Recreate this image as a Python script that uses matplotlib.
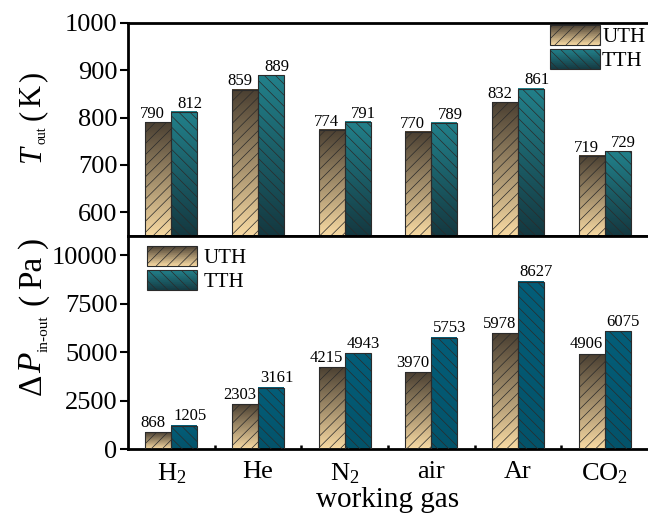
import numpy as np
import matplotlib
matplotlib.use("Agg")
import matplotlib.pyplot as plt
from matplotlib.patches import Rectangle
from matplotlib.legend_handler import HandlerBase
from matplotlib.colors import to_rgb, LinearSegmentedColormap
from matplotlib.transforms import IdentityTransform

# ---- data -------------------------------------------------------------
gases = ["H$_2$", "He", "N$_2$", "air", "Ar", "CO$_2$"]
series = ["UTH", "TTH"]
t_out_uth = [790, 859, 774, 770, 832, 719]
t_out_tth = [812, 889, 791, 789, 861, 729]
dp_uth = [868, 2303, 4215, 3970, 5978, 4906]
dp_tth = [1205, 3161, 4943, 5753, 8627, 6075]

# ---- style ------------------------------------------------------------
plt.rcParams.update({
    "font.family": "Liberation Serif",
    "mathtext.fontset": "custom",
    "mathtext.rm": "Liberation Serif",
    "mathtext.it": "Liberation Serif:italic",
    "mathtext.bf": "Liberation Serif:bold",
    "hatch.linewidth": 0.5,
})

UTH_TOP, UTH_BOT = "#4a3f31", "#f8daa3"
TTH_TOP, TTH_BOT = "#22818b", "#143840"
TTH2_TOP, TTH2_BOT = "#035e79", "#04536a"
EDGE = "#2b2b2b"
HATCH_U, HATCH_T = "///", "\\\\\\"

W, H = 648, 518
fig = plt.figure(figsize=(W / 100, H / 100), dpi=100)
left = 128 / W
sep = (H - 236) / H
top = (H - 22.7) / H
bottom = (H - 449) / H
ax_t = fig.add_axes([left, sep, 1.0 - left, top - sep])
ax_b = fig.add_axes([left, bottom, 1.0 - left, sep - bottom], sharex=ax_t)

x = np.arange(len(gases))
bw = 0.3


def gradient_fill(ax, bars, c_top, c_bot, ybase):
    cmap = LinearSegmentedColormap.from_list("g", [c_bot, c_top])
    grad = np.linspace(0, 1, 256).reshape(-1, 1)
    for b in bars:
        x0, w = b.get_x(), b.get_width()
        y1 = b.get_y() + b.get_height()
        y0 = max(b.get_y(), ybase)
        ax.imshow(grad, cmap=cmap, origin="lower", aspect="auto",
                  extent=(x0, x0 + w, y0, y1), zorder=2,
                  interpolation="bilinear")


def draw_panel(ax, uth, tth, ylim, tth_colors, dy_pts):
    b1 = ax.bar(x - bw / 2, uth, bw, facecolor="none", edgecolor=EDGE,
                hatch=HATCH_U, linewidth=0.8, zorder=3)
    b2 = ax.bar(x + bw / 2, tth, bw, facecolor="none", edgecolor=EDGE,
                hatch=HATCH_T, linewidth=0.8, zorder=3)
    gradient_fill(ax, b1, UTH_TOP, UTH_BOT, ylim[0])
    gradient_fill(ax, b2, tth_colors[0], tth_colors[1], ylim[0])
    for bars, vals, dx in ((b1, uth, -4), (b2, tth, 4)):
        for b, v in zip(bars, vals):
            ax.annotate(f"{v}", (b.get_x() + b.get_width() / 2, v),
                        xytext=(dx, dy_pts), textcoords="offset points",
                        ha="center", va="baseline", fontsize=12, zorder=4)
    ax.set_ylim(*ylim)
    ax.set_xlim(-0.5, 5.5)


draw_panel(ax_t, t_out_uth, t_out_tth, (550, 1000), (TTH_TOP, TTH_BOT), 3)
draw_panel(ax_b, dp_uth, dp_tth, (0, 11000), (TTH2_TOP, TTH2_BOT), 4)

for ax in (ax_t, ax_b):
    for s in ("left", "top", "bottom"):
        ax.spines[s].set_linewidth(2)
    ax.spines["right"].set_visible(False)
    ax.tick_params(axis="y", which="major", direction="out", length=6,
                   width=1.5, labelsize=19, pad=1.5)

ax_t.set_yticks([600, 700, 800, 900, 1000])
ax_b.set_yticks([0, 2500, 5000, 7500, 10000])
ax_b.set_xticks(x)
ax_b.set_xticklabels(gases)
ax_b.set_xticks(x[:-1] + 0.5, minor=True)
ax_b.tick_params(axis="x", which="major", direction="in", length=4.5,
                 width=1.8, labelsize=19, pad=9)
ax_b.tick_params(axis="x", which="minor", direction="in", length=3,
                 width=1.8)
ax_t.tick_params(axis="x", which="both", bottom=False, labelbottom=False)
ax_b.set_xlabel("working gas", fontsize=21, labelpad=1)


# ---- legends with gradient swatches -------------------------------------
class GradientHandler(HandlerBase):
    def __init__(self, c_top, c_bot, hatch, n=30):
        super().__init__()
        self.c_top = np.array(to_rgb(c_top))
        self.c_bot = np.array(to_rgb(c_bot))
        self.hatch = hatch
        self.n = n

    def create_artists(self, legend, orig_handle, xdescent, ydescent,
                       width, height, fontsize, trans):
        x0, y0 = -xdescent, -ydescent
        arts = []
        step = height / self.n
        for i in range(self.n):
            f = (i + 0.5) / self.n
            c = self.c_bot * (1 - f) + self.c_top * f
            arts.append(Rectangle((x0, y0 + i * step), width, step * 1.05,
                                  facecolor=c, edgecolor="none",
                                  antialiased=False, transform=trans))
        arts.append(Rectangle((x0, y0), width, height, facecolor="none",
                              edgecolor=EDGE, hatch=self.hatch,
                              linewidth=0.8, transform=trans))
        return arts


def add_legend(ax, anchor_px, textpad):
    pu = Rectangle((0, 0), 1, 1, label=series[0])
    pt = Rectangle((0, 0), 1, 1, label=series[1])
    leg = ax.legend(handles=[pu, pt],
                    handler_map={pu: GradientHandler(UTH_TOP, UTH_BOT, HATCH_U),
                                 pt: GradientHandler(TTH_TOP, TTH_BOT, HATCH_T)},
                    loc="upper left",
                    bbox_to_anchor=(anchor_px[0] / W, (H - anchor_px[1]) / H),
                    bbox_transform=fig.transFigure, frameon=False,
                    borderpad=0, borderaxespad=0, fontsize=15,
                    handlelength=2.4, handleheight=1.1,
                    handletextpad=textpad, labelspacing=0.1)
    leg.set_zorder(5)
    return leg


add_legend(ax_t, (550, 25), 0.1)
add_legend(ax_b, (147, 246), 0.3)


# ---- rotated y labels built from pieces ---------------------------------
def vertical_label(x_base, y_center, pieces):
    """pieces: (text, fontsize, style, baseline shift px, gap before px)"""
    renderer = fig.canvas.get_renderer()
    items = []
    total = 0.0
    for text, size, style, drop, gap in pieces:
        t = fig.text(0, 0, text, fontsize=size, style=style, rotation=90,
                     rotation_mode="anchor", ha="left", va="baseline",
                     transform=IdentityTransform())
        length = t.get_window_extent(renderer).height
        items.append((t, drop, gap, length))
        total += gap + length
    y = (H - y_center) - total / 2
    for t, drop, gap, length in items:
        y += gap
        t.set_position((x_base + drop, y))
        y += length


vertical_label(40, 117, [
    ("T", 22, "italic", 0, 0),
    ("out", 10, "normal", 6, 1),
    ("(", 22, "normal", 0, 7),
    ("K", 22, "normal", 0, 3),
    (")", 22, "normal", 0, 3),
])
vertical_label(41, 316, [
    ("\u0394", 24, "normal", 0, 0),
    ("P", 24, "italic", 0, 1),
    ("in-out", 11, "normal", 7, 1),
    ("(", 24, "normal", 0, 10),
    ("Pa", 24, "normal", 0, 5),
    (")", 24, "normal", 0, 8),
])

fig.savefig("out.png", dpi=100)
